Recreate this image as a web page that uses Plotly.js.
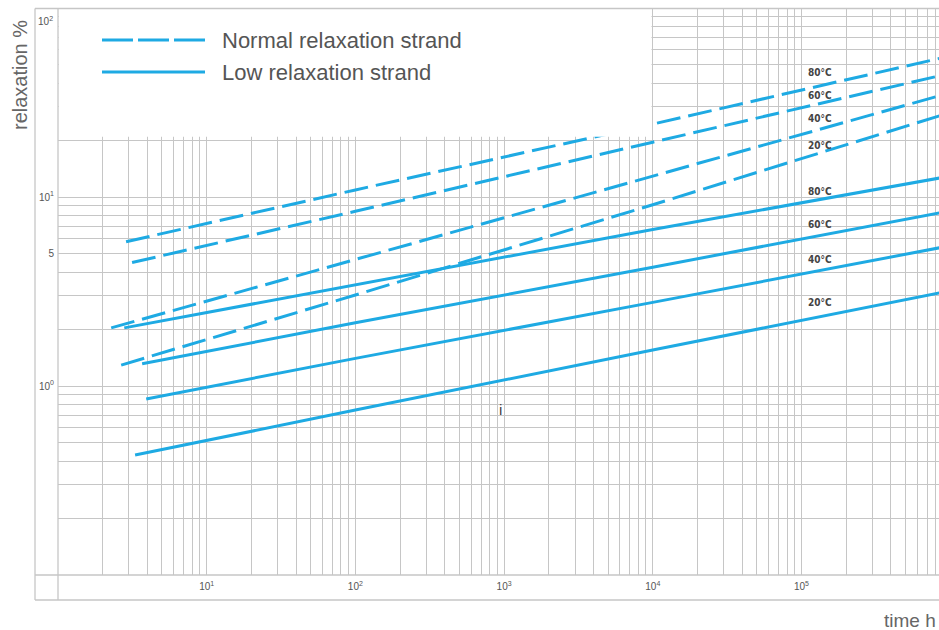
<!DOCTYPE html>
<html>
<head>
<meta charset="utf-8">
<script src="https://cdn.plot.ly/plotly-3.0.1.min.js"></script>
<style>
  html, body { margin: 0; padding: 0; background: #ffffff; }
  #chart { width: 939px; height: 630px; }
</style>
</head>
<body>
<div id="chart"></div>
<script>
// ---- data ----
const temperatures = ['80°C', '60°C', '40°C', '20°C'];
const commonTimes = [100, 10000, 1000000];          // time h
const normalStartTimes = [2.87, 3.15, 2.28, 2.66];  // time h where each curve begins
const lowStartTimes = [2.79, 3.68, 3.92, 3.30];
const normal80 = [5.8, 10.9, 24.3, 55.7];           // relaxation %
const normal60 = [4.5, 8.4, 19.5, 45.1];
const normal40 = [2.03, 4.67, 12.9, 35.6];
const normal20 = [1.29, 3.03, 9.1, 28.0];
const low80 = [2.03, 3.44, 6.73, 12.9];
const low60 = [1.31, 2.16, 4.25, 8.45];
const low40 = [0.854, 1.40, 2.77, 5.52];
const low20 = [0.431, 0.746, 1.55, 3.19];
const legendNames = ['Normal relaxation strand', 'Low relaxation strand'];
const xTickVals = [10, 100, 1000, 10000, 100000, 1000000];
const xTickText = ['10<sup>1</sup>', '10<sup>2</sup>', '10<sup>3</sup>', '10<sup>4</sup>', '10<sup>5</sup>', '10<sup>6</sup>'];
const yTickVals = [1, 5, 10];
const yTickText = ['10<sup>0</sup>', '5', '10<sup>1</sup>'];

// ---- layout geometry (pixels) ----
const W = 939, H = 630;
const L = 58, R = 939, T = 8, B = 575;
const px = x => (x - L) / (R - L);
const py = y => (B - y) / (B - T);
const LINE = '#1eaae3';
const GRID = '#c6c6c6';
const TEXT = '#555555';

const normalSeries = [normal80, normal60, normal40, normal20];
const lowSeries = [low80, low60, low40, low20];

const traces = [];
normalSeries.forEach((vals, i) => {
  traces.push({
    type: 'scatter', mode: 'lines',
    name: legendNames[0] + ' ' + temperatures[i],
    x: [normalStartTimes[i]].concat(commonTimes), y: vals,
    line: {color: LINE, width: 3, dash: '24px,8px'},
    showlegend: false, hoverinfo: 'skip'
  });
});
lowSeries.forEach((vals, i) => {
  traces.push({
    type: 'scatter', mode: 'lines',
    name: legendNames[1] + ' ' + temperatures[i],
    x: [lowStartTimes[i]].concat(commonTimes), y: vals,
    line: {color: LINE, width: 3},
    showlegend: false, hoverinfo: 'skip'
  });
});

// minor gridlines at every 1..9 multiple
const xMinor = [], yMinor = [];
for (let e = 0; e <= 5; e++) for (let d = 1; d <= 9; d++) xMinor.push(d * Math.pow(10, e));
for (let e = -1; e <= 1; e++) for (let d = 1; d <= 9; d++) yMinor.push(d * Math.pow(10, e));
yMinor.push(100);

const frame = {color: GRID, width: 1.3};
const shapes = [
  {type: 'rect', xref: 'paper', yref: 'paper', layer: 'above',
   x0: px(58.6), x1: px(651.5), y0: py(136.8), y1: py(8.6),
   fillcolor: '#ffffff', line: {width: 0}},
  {type: 'line', xref: 'paper', yref: 'paper', x0: px(35), x1: px(35), y0: py(8.5), y1: py(600), line: frame},
  {type: 'line', xref: 'paper', yref: 'paper', x0: px(58), x1: px(58), y0: py(8.5), y1: py(600), line: frame},
  {type: 'line', xref: 'paper', yref: 'paper', x0: px(35), x1: px(939), y0: py(8.5), y1: py(8.5), line: frame},
  {type: 'line', xref: 'paper', yref: 'paper', x0: px(35), x1: px(939), y0: py(575), y1: py(575), line: frame},
  {type: 'line', xref: 'paper', yref: 'paper', x0: px(35), x1: px(939), y0: py(600), y1: py(600), line: frame},
  {type: 'line', xref: 'paper', yref: 'paper', layer: 'above', x0: px(102), x1: px(205), y0: py(40), y1: py(40),
   line: {color: LINE, width: 3, dash: '31px,5px'}},
  {type: 'line', xref: 'paper', yref: 'paper', layer: 'above', x0: px(102), x1: px(205), y0: py(72), y1: py(72),
   line: {color: LINE, width: 3}}
];

const FONT = 'Liberation Sans, Arial, sans-serif';
const annotations = [
  {xref: 'paper', yref: 'paper', x: px(220), y: py(40), xanchor: 'left', yanchor: 'middle',
   text: legendNames[0], showarrow: false, font: {family: FONT, size: 22, color: TEXT}},
  {xref: 'paper', yref: 'paper', x: px(220), y: py(72), xanchor: 'left', yanchor: 'middle',
   text: legendNames[1], showarrow: false, font: {family: FONT, size: 22, color: TEXT}},
  {xref: 'paper', yref: 'paper', x: px(20), y: py(75), xanchor: 'center', yanchor: 'middle', textangle: -90,
   text: 'relaxation %', showarrow: false, font: {family: FONT, size: 20, color: '#666666'}},
  {xref: 'paper', yref: 'paper', x: px(938), y: py(620), xanchor: 'right', yanchor: 'middle',
   text: 'time h', showarrow: false, font: {family: FONT, size: 19, color: '#666666'}},
  {xref: 'paper', yref: 'paper', x: px(55), y: py(21), xanchor: 'right', yanchor: 'middle',
   text: '10<sup>2</sup>', showarrow: false, font: {family: FONT, size: 10, color: TEXT}},
  {xref: 'paper', yref: 'paper', x: px(500.5), y: py(409), xanchor: 'center', yanchor: 'middle',
   text: 'i', showarrow: false, font: {family: FONT, size: 15, color: '#444444'}}
];
const normalLabelY = [72, 95, 118, 145];
const lowLabelY = [191, 224, 259, 302];
temperatures.forEach((t, i) => {
  [normalLabelY[i], lowLabelY[i]].forEach(yy => {
    annotations.push({xref: 'paper', yref: 'paper', x: px(806), y: py(yy), xanchor: 'left', yanchor: 'middle',
      text: '<b>' + t + '</b>', showarrow: false,
      font: {family: 'DejaVu Sans Condensed, Liberation Sans, sans-serif', size: 10, color: '#444444'}});
  });
});

const layout = {
  width: W, height: H,
  margin: {l: L, r: W - R, t: T, b: H - B, pad: 0},
  paper_bgcolor: '#ffffff', plot_bgcolor: '#ffffff',
  showlegend: false,
  xaxis: {
    type: 'log', range: [0, 5.925], tickmode: 'array', tickvals: xTickVals, ticktext: xTickText,
    showgrid: true, gridcolor: GRID, gridwidth: 1, zeroline: false, showline: false,
    ticks: '', ticklabelstandoff: 4,
    minor: {tickmode: 'array', tickvals: xMinor, showgrid: true, gridcolor: GRID, gridwidth: 1, ticks: ''},
    tickfont: {family: FONT, size: 10, color: TEXT}
  },
  yaxis: {
    type: 'log', range: [-1, 2], tickmode: 'array', tickvals: yTickVals, ticktext: yTickText,
    showgrid: true, gridcolor: GRID, gridwidth: 1, zeroline: false, showline: false,
    ticks: '', ticklabelstandoff: 3,
    minor: {tickmode: 'array', tickvals: yMinor, showgrid: true, gridcolor: GRID, gridwidth: 1, ticks: ''},
    tickfont: {family: FONT, size: 10, color: TEXT}
  },
  shapes: shapes,
  annotations: annotations
};

Plotly.newPlot('chart', traces, layout, {displayModeBar: false, staticPlot: true});
</script>
</body>
</html>
